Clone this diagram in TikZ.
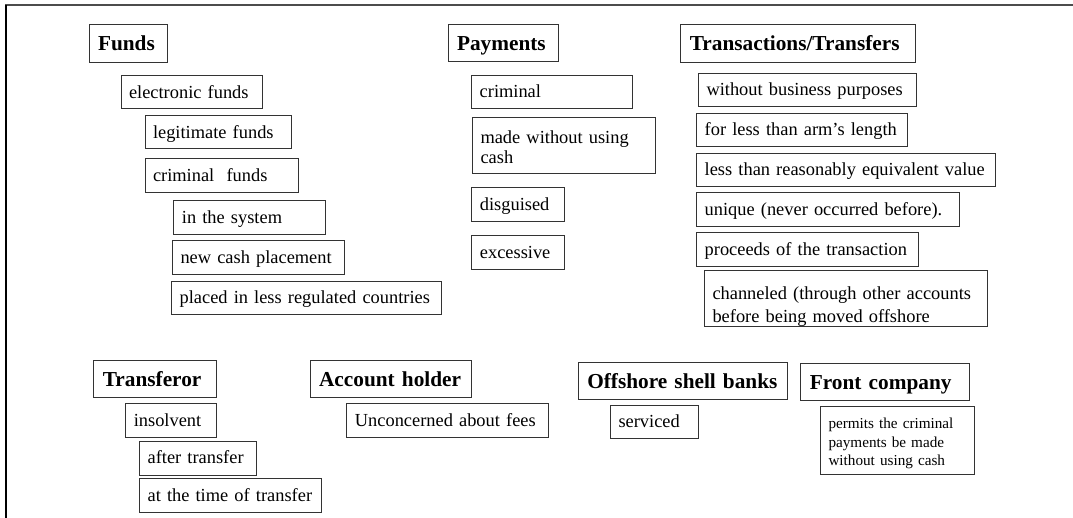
\documentclass[tikz,border=0pt]{standalone}
\usepackage{fontspec}
\setmainfont{Liberation Serif}

\begin{document}
\begin{tikzpicture}[x=1pt,y=-1pt,
    head/.style={draw=black!80,line width=1pt,anchor=north west,inner xsep=9pt,inner ysep=0pt,
                 align=left,text height=16pt,text depth=1.5pt,font=\fontsize{21.3}{24}\selectfont\bfseries},
    item/.style={draw=black!80,line width=1pt,anchor=north west,inner xsep=8pt,inner ysep=0pt,
                 align=left,text height=13pt,text depth=1.5pt,font=\fontsize{18.4}{20}\selectfont},
    small/.style={item,text height=11pt,font=\fontsize{15.2}{18.5}\selectfont}]
  \useasboundingbox (0,0) rectangle (1073,518);

  % frame
  \draw[black!70,line width=1.5pt] (5,5) -- (1073,5);
  \draw[black,line width=1.5pt] (6,5) -- (6,518);

  % Funds
  \node[head,text width=60.5pt,minimum height=37.5pt] (Funds) at(88.5,24.5) {Funds};
  \node[item,text width=125.5pt,minimum height=33pt] (FundsEl) at(120.5,75.5) {electronic funds};
  \node[item,text width=130.5pt,minimum height=33pt] (FundsLeg) at(144.5,115.3) {legitimate funds};
  \node[item,text width=137.4pt,minimum height=33.4pt] (FundsCrim) at(144.5,158.3) {criminal~ funds};
  \node[item,text width=135.8pt,minimum height=34pt] (FundsSys) at(173.4,200.3) {in the system};
  \node[item,text width=156pt,minimum height=34pt] (FundsNew) at(172,240) {new cash placement};
  \node[item,text width=253.7pt,minimum height=33.6pt] (FundsPlaced) at(171.1,280.7) {placed in less regulated countries};

  % Payments
  \node[head,text width=92.1pt,minimum height=37pt] (Pay) at(447.5,24.3) {Payments};
  \node[item,text width=144.4pt,minimum height=33pt] (PayCrim) at(471.2,75.1) {criminal};
  \node[item,text width=167pt,minimum height=56pt,text height=13pt,text depth=17pt] (PayCash) at(472,117.5)
       {made without using\\cash};
  \node[item,text width=76.2pt,minimum height=33.7pt] (PayDisg) at(471.4,187) {disguised};
  \node[item,text width=76.2pt,minimum height=33.7pt] (PayExc) at(471.4,235.3) {excessive};

  % Transactions/Transfers
  \node[head,text width=216.7pt,minimum height=37.4pt] (Trans) at(680.3,24.3) {Transactions/Transfers};
  \node[item,text width=201.7pt,minimum height=33.3pt] (TransBus) at(698,73) {without business purposes};
  \node[item,text width=194.8pt,minimum height=33.6pt] (TransArm) at(696.2,112.7) {for less than arm’s length};
  \node[item,text width=283.2pt,minimum height=33.3pt] (TransVal) at(696.2,152.7) {less than reasonably equivalent value};
  \node[item,text width=246.5pt,minimum height=33.7pt] (TransUni) at(696.2,192.3) {unique (never occurred before).};
  \node[item,text width=206pt,minimum height=34pt] (TransProc) at(696.2,232.3) {proceeds of the transaction};
  \node[item,text width=266.5pt,minimum height=55.4pt,text height=13pt,text depth=11pt,
        font=\fontsize{18.4}{23}\selectfont] (TransChan) at(704,270.3)
       {channeled (through other accounts\\before being moved offshore};

  % Transferor
  \node[head,text width=104.3pt,minimum height=37pt] (Tfor) at(93.3,360.3) {Transferor};
  \node[item,text width=74.3pt,minimum height=34pt] (TforIns) at(125.3,403.3) {insolvent};
  \node[item,text width=101.1pt,minimum height=34pt] (TforAfter) at(139.1,440.7) {after transfer};
  \node[item,text width=165.8pt,minimum height=34pt] (TforTime) at(139.1,478) {at the time of transfer};

  % Account holder
  \node[head,text width=143.8pt,minimum height=37pt] (Acc) at(309.6,360.3) {Account holder};
  \node[item,text width=186pt,minimum height=34pt] (AccFees) at(346.4,403.3) {Unconcerned about fees};

  % Offshore shell banks
  \node[head,text width=190.8pt,minimum height=37pt] (Shell) at(577.8,362) {Offshore shell banks};
  \node[item,text width=71.6pt,minimum height=33.6pt] (ShellServ) at(610,404.7) {serviced};

  % Front company
  \node[head,text width=150.6pt,minimum height=36.7pt] (Front) at(800.4,363.3) {Front company};
  \node[small,text width=138pt,minimum height=68.3pt,text depth=34.4pt] (FrontPerm) at(820,405.7)
       {permits the criminal\\payments be made\\without using cash};

\end{tikzpicture}
\end{document}
